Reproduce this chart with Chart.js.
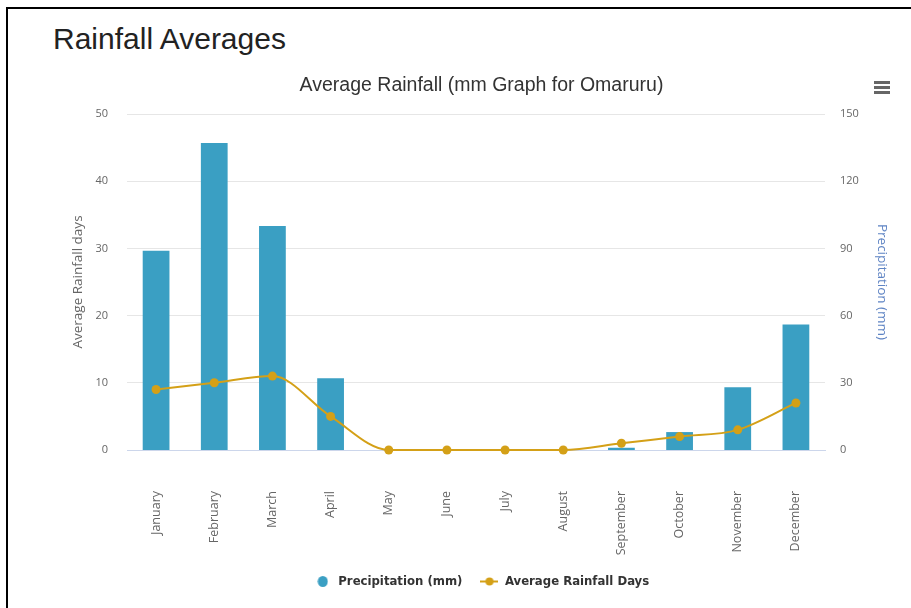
<!DOCTYPE html>
<html>
<head>
<meta charset="utf-8">
<title>Rainfall Averages</title>
<script src="https://cdn.jsdelivr.net/npm/chart.js@4.4.1/dist/chart.umd.min.js"></script>
<style>
body { margin: 0; background: #fff; }
#frame { position: absolute; left: 6px; top: 7px; right: 0; bottom: 0; border-top: 2px solid #000; border-left: 2px solid #000; }
h2 { position: absolute; left: 53px; top: 24px; margin: 0; font: normal 30px/30px "Liberation Sans", Arial, sans-serif; color: #222; }
#wrap { position: absolute; left: 0; top: 0; width: 911px; height: 608px; }
#menu { position: absolute; left: 874px; top: 81px; width: 16px; }
#menu span { display: block; height: 3px; background: #666; margin-bottom: 2px; }
</style>
</head>
<body>
<div id="frame"></div>
<h2>Rainfall Averages</h2>
<div id="wrap"><canvas id="rainfall"></canvas></div>
<div id="menu"><span></span><span></span><span></span></div>
<script>
var months = ['January', 'February', 'March', 'April', 'May', 'June', 'July', 'August', 'September', 'October', 'November', 'December'];
var precipitation = [89, 137, 100, 32, 0, 0, 0, 0, 1, 8, 28, 56];
var rainDays = [9, 10, 11, 5, 0, 0, 0, 0, 1, 2, 3, 7];

var barColor = '#3a9fc3';
var lineColor = '#d4a017';

Chart.defaults.font.family = "'Open Sans', sans-serif";

// legend icons: round dot for the bars, line with dot for the line
function makeIcon(withLine, color) {
	var c = document.createElement('canvas');
	c.width = withLine ? 18 : 11;
	c.height = 11;
	var g = c.getContext('2d');
	g.fillStyle = color;
	g.strokeStyle = color;
	if (withLine) {
		g.lineWidth = 2;
		g.beginPath();
		g.moveTo(0, 5.5);
		g.lineTo(18, 5.5);
		g.stroke();
		g.beginPath();
		g.arc(9, 5.5, 4, 0, Math.PI * 2);
		g.fill();
	} else {
		g.beginPath();
		g.ellipse(5.5, 5.5, 5, 5.5, 0, 0, Math.PI * 2);
		g.fill();
	}
	return c;
}
var icons = [makeIcon(false, barColor), makeIcon(true, lineColor)];

var rainfallConfig = {
	type: 'bar',
	data: {
		labels: months,
		datasets: [{
			label: 'Precipitation (mm)',
			data: precipitation,
			yAxisID: 'mm',
			backgroundColor: barColor,
			categoryPercentage: 1,
			barPercentage: 0.46,
			order: 1
		}, {
			type: 'line',
			label: 'Average Rainfall Days',
			data: rainDays,
			yAxisID: 'days',
			borderColor: lineColor,
			backgroundColor: lineColor,
			borderWidth: 2,
			pointRadius: 4.5,
			pointBorderWidth: 0,
			pointBackgroundColor: lineColor,
			cubicInterpolationMode: 'monotone',
			clip: false,
			order: 0
		}]
	},
	options: {
		responsive: true,
		maintainAspectRatio: false,
		animation: false,
		layout: { padding: { left: 52, right: 0, top: 66, bottom: 10 } },
		plugins: {
			title: {
				display: true,
				text: 'Average Rainfall (mm Graph for Omaruru)',
				color: '#333',
				font: { size: 19.5, family: "'Liberation Sans', Arial, sans-serif", weight: 'normal' },
				padding: { top: 8, bottom: 16.6 }
			},
			legend: {
				position: 'bottom',
				labels: {
					usePointStyle: true,
					pointStyleWidth: 18,
					padding: 18,
					color: '#333',
					font: { size: 13, weight: 'bold', family: "'Liberation Sans Narrow', 'DejaVu Sans Condensed', sans-serif" },
					generateLabels: function(chart) {
						var items = Chart.defaults.plugins.legend.labels.generateLabels(chart);
						items.forEach(function(item) {
							item.pointStyle = icons[item.datasetIndex];
						});
						return items.sort(function(a, b) { return a.datasetIndex - b.datasetIndex; });
					}
				}
			},
			tooltip: { enabled: false }
		},
		scales: {
			x: {
				grid: { display: false, drawTicks: false },
				border: { display: true, color: '#ccd6eb' },
				ticks: { autoSkip: false, minRotation: 90, maxRotation: 90, padding: 41, color: '#666', font: { size: 12.5 } },
				afterFit: function(scale) { scale.height = 107; }
			},
			days: {
				position: 'left',
				min: 0,
				max: 50,
				ticks: { stepSize: 10, padding: 19, color: '#666', font: { size: 11 } },
				grid: { color: '#e6e6e6', drawTicks: false },
				border: { display: false },
				title: { display: true, text: 'Average Rainfall days', color: '#666', font: { size: 13.5 }, padding: { top: 18, bottom: 0 } },
				afterFit: function(scale) { scale.width = 75; }
			},
			mm: {
				position: 'right',
				min: 0,
				max: 150,
				ticks: { stepSize: 30, padding: 15, color: '#666', font: { size: 11 } },
				grid: { display: false, drawTicks: false },
				border: { display: false },
				title: { display: true, text: 'Precipitation (mm)', color: '#5f84c4', font: { size: 13.5 }, padding: { top: 21, bottom: 0 } },
				afterFit: function(scale) { scale.width = 86; }
			}
		}
	}
};

window.onload = function() {
	var ctx = document.getElementById('rainfall').getContext('2d');
	window.rainfallChart = new Chart(ctx, rainfallConfig);
};
</script>
</body>
</html>
